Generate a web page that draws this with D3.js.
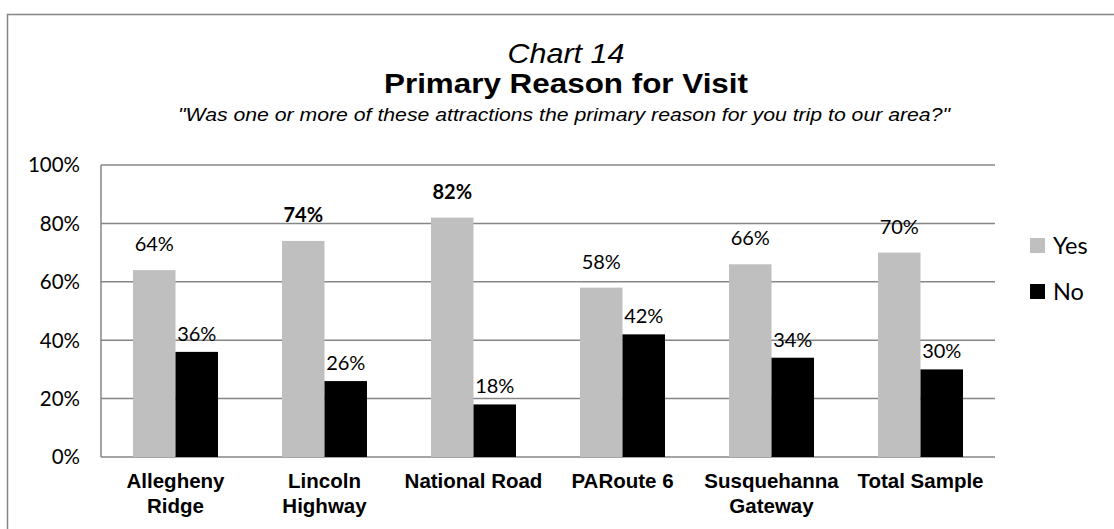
<!DOCTYPE html>
<html>
<head>
<meta charset="utf-8">
<script src="https://cdn.jsdelivr.net/npm/d3@7"></script>
<style>
  html, body { margin: 0; padding: 0; background: #fff; }
  svg { display: block; }
</style>
</head>
<body>
<svg id="chart" width="1114" height="529"></svg>
<script>
const categories = [["Allegheny", "Ridge"], ["Lincoln", "Highway"], ["National Road"], ["PARoute 6"], ["Susquehanna", "Gateway"], ["Total Sample"]];
const categoryKeys = ["Allegheny Ridge", "Lincoln Highway", "National Road", "PARoute 6", "Susquehanna Gateway", "Total Sample"];
const seriesNames = ["Yes", "No"];
const yesValues = [64, 74, 82, 58, 66, 70];
const noValues = [36, 26, 18, 42, 34, 30];
const yesLabelBold = [false, true, true, false, false, false];
const yTicks = [0, 20, 40, 60, 80, 100];
const titleLine1 = "Chart 14";
const titleLine2 = "Primary Reason for Visit";
const subtitle = "\"Was one or more of these attractions the primary reason for you trip to our area?\"";

const colors = { Yes: "#bfbfbf", No: "#000000" };
const labelGap = { Yes: 19, No: 11 };
const svg = d3.select("#chart");

// outer frame (cut off at right & bottom like reference)
svg.append("rect").attr("x", 7.5).attr("y", 14.5).attr("width", 1130).attr("height", 540)
  .attr("fill", "none").attr("stroke", "#868686").attr("stroke-width", 1.5);

const plot = { left: 101, right: 995, top: 165, bottom: 457 };

const x0 = d3.scaleBand().domain(categoryKeys).range([plot.left, plot.right]).padding(0);
const x1 = d3.scaleBand().domain(seriesNames).range([0, x0.bandwidth()]).paddingInner(0).paddingOuter(0.753);
const y = d3.scaleLinear().domain([0, 100]).range([plot.bottom, plot.top]);

// gridlines
svg.append("g").selectAll("line").data(yTicks).join("line")
  .attr("x1", plot.left).attr("x2", plot.right)
  .attr("y1", d => y(d)).attr("y2", d => y(d))
  .attr("stroke", "#868686").attr("stroke-width", 1.5);

// y axis line
svg.append("line").attr("x1", plot.left).attr("x2", plot.left)
  .attr("y1", plot.top).attr("y2", plot.bottom)
  .attr("stroke", "#868686").attr("stroke-width", 1.5);

// y tick labels
svg.append("g").selectAll("text").data(yTicks).join("text")
  .attr("x", plot.left - 21).attr("y", d => y(d))
  .attr("dy", "0.36em").attr("text-anchor", "end")
  .attr("font-family", "Lato, 'Open Sans', sans-serif").attr("font-size", 20.5).attr("fill", "#000")
  .text(d => d + "%");

// bars
const rows = categoryKeys.map((c, i) => ({ cat: c, Yes: yesValues[i], No: noValues[i], bold: yesLabelBold[i] }));
const groups = svg.append("g").selectAll("g").data(rows).join("g")
  .attr("transform", d => `translate(${x0(d.cat)},0)`);

groups.selectAll("rect").data(d => seriesNames.map(s => ({ s, v: d[s] }))).join("rect")
  .attr("x", d => x1(d.s)).attr("width", x1.bandwidth())
  .attr("y", d => y(d.v)).attr("height", d => y(0) - y(d.v))
  .attr("fill", d => colors[d.s]);

groups.selectAll("text.lbl").data(d => seriesNames.map(s => ({ s, v: d[s], bold: s === "Yes" && d.bold }))).join("text")
  .attr("class", "lbl")
  .attr("x", d => x1(d.s) + x1.bandwidth() / 2)
  .attr("y", d => y(d.v) - labelGap[d.s])
  .attr("text-anchor", "middle")
  .attr("font-family", "Lato, 'Open Sans', sans-serif").attr("font-size", 20)
  .attr("font-weight", d => d.bold ? "bold" : "normal")
  .attr("fill", "#000")
  .text(d => d.v + "%");

// category labels
svg.append("g").selectAll("text").data(categories).join("text")
  .attr("x", (d, i) => x0(categoryKeys[i]) + x0.bandwidth() / 2)
  .attr("y", 488)
  .attr("text-anchor", "middle")
  .attr("font-family", "'Liberation Sans', Arial, sans-serif").attr("font-size", 20.5).attr("font-weight", "bold")
  .attr("fill", "#000")
  .each(function(d) {
    const t = d3.select(this);
    d.forEach((line, j) => {
      t.append("tspan").attr("x", t.attr("x")).attr("dy", j === 0 ? 0 : 25).text(line);
    });
  });

// titles
const cx = 566;
svg.append("text").attr("x", cx).attr("y", 63).attr("text-anchor", "middle")
  .attr("font-family", "'Liberation Sans', Arial, sans-serif").attr("font-size", 28).attr("font-style", "italic")
  .attr("textLength", 117).attr("lengthAdjust", "spacingAndGlyphs")
  .text(titleLine1);
svg.append("text").attr("x", cx).attr("y", 93).attr("text-anchor", "middle")
  .attr("font-family", "'Liberation Sans', Arial, sans-serif").attr("font-size", 28).attr("font-weight", "bold")
  .attr("textLength", 364).attr("lengthAdjust", "spacingAndGlyphs")
  .text(titleLine2);
svg.append("text").attr("x", 564).attr("y", 121).attr("text-anchor", "middle")
  .attr("font-family", "'Liberation Sans', Arial, sans-serif").attr("font-size", 17.5).attr("font-style", "italic")
  .attr("textLength", 772).attr("lengthAdjust", "spacingAndGlyphs")
  .text(subtitle);

// legend
const legend = svg.append("g").selectAll("g").data(seriesNames).join("g")
  .attr("transform", (d, i) => `translate(1030,${238 + i * 46})`);
legend.append("rect").attr("width", 15).attr("height", 15).attr("fill", d => colors[d]);
legend.append("text").attr("x", 23).attr("y", 16)
  .attr("font-family", "Lato, 'Open Sans', sans-serif").attr("font-size", 23.5).attr("fill", "#000")
  .text(d => d);
</script>
</body>
</html>
